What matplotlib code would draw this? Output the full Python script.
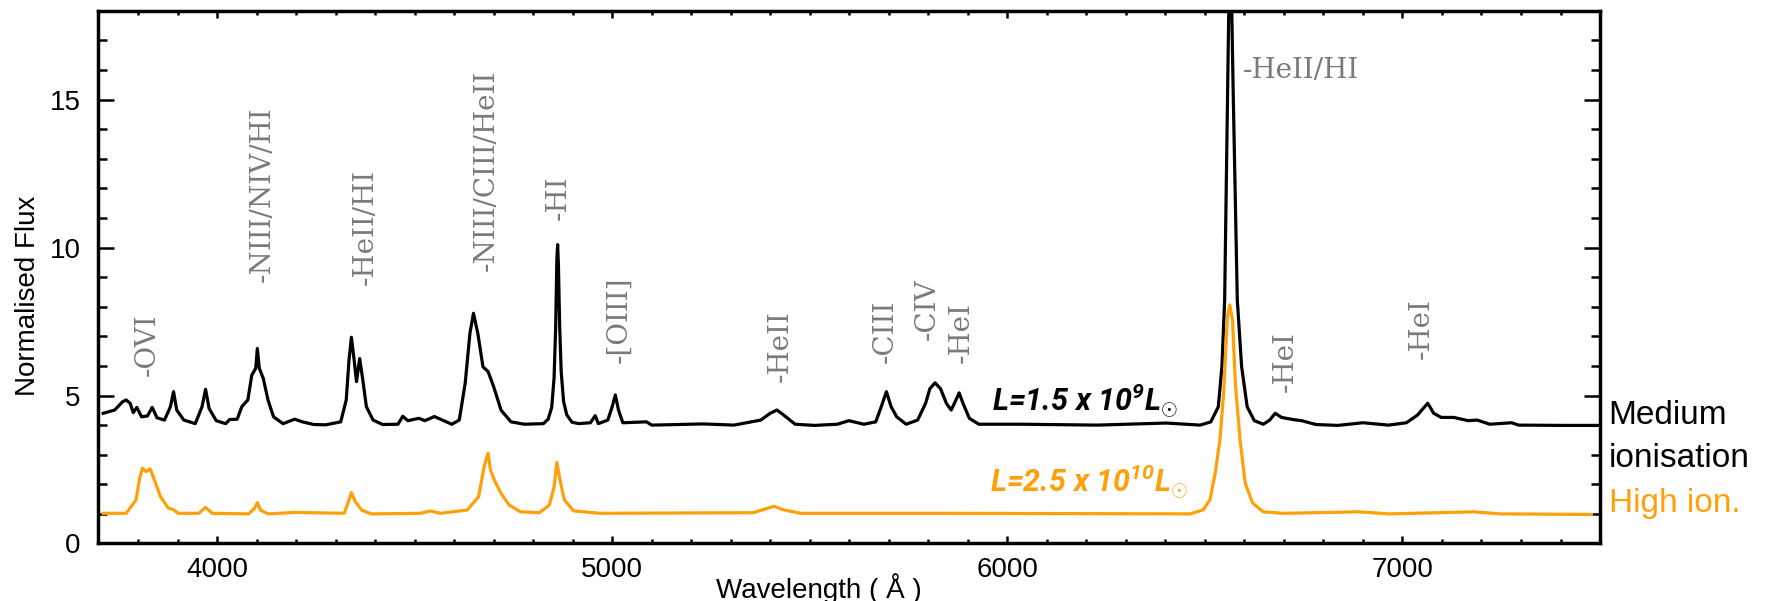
import matplotlib
matplotlib.use('Agg')
import matplotlib.pyplot as plt
import numpy as np
from matplotlib.ticker import MultipleLocator

# Medium ionisation spectrum (wavelength in Angstrom, normalised flux)
medium_wl = [3712, 3725, 3741, 3761, 3770, 3780, 3788, 3797, 3809, 3824, 3836, 3848, 3867,
             3882, 3890, 3898, 3916, 3945, 3962, 3971, 3980, 3998, 4022, 4032, 4051,
             4063, 4078, 4088, 4098, 4102, 4107, 4117, 4129, 4143, 4167, 4197, 4216,
             4245, 4275, 4313, 4327, 4334, 4340, 4347, 4353, 4361, 4369, 4378, 4395,
             4419, 4458, 4470, 4483, 4511, 4526, 4550, 4570, 4594, 4613, 4628, 4640,
             4649, 4660, 4673, 4686, 4700, 4719, 4744, 4778, 4826, 4838, 4847, 4853,
             4857, 4860, 4862, 4864, 4867, 4871, 4877, 4885, 4898, 4915, 4945, 4957,
             4965, 4989, 5000, 5008,
             5016, 5027, 5087, 5100, 5231, 5308, 5376, 5400, 5417, 5434, 5463, 5512,
             5570, 5599, 5637, 5667, 5681, 5694, 5706, 5720, 5744, 5773, 5793, 5804,
             5817, 5831, 5846, 5858, 5870, 5878, 5888, 5904, 5928, 6035, 6228, 6402,
             6488, 6515, 6534, 6543, 6550, 6557, 6560, 6563, 6568, 6572, 6582, 6593,
             6607, 6625, 6648, 6664, 6678, 6694, 6722, 6745, 6781, 6836, 6900, 6965,
             7010, 7038, 7064, 7079, 7098, 7130, 7166, 7189, 7221, 7276, 7294, 7405,
             7496]
medium_flux = [4.40, 4.45, 4.51, 4.79, 4.85, 4.74, 4.42, 4.60, 4.28, 4.31, 4.60, 4.25, 4.17,
               4.62, 5.13, 4.51, 4.17, 4.05, 4.62, 5.21, 4.56, 4.15, 4.05, 4.19, 4.20,
               4.63, 4.85, 5.69, 5.92, 6.59, 5.92, 5.58, 4.85, 4.28, 4.05, 4.20, 4.11,
               4.02, 4.01, 4.11, 4.85, 6.20, 6.97, 6.20, 5.47, 6.25, 5.52, 4.62, 4.17,
               4.02, 4.03, 4.30, 4.15, 4.23, 4.15, 4.29, 4.17, 4.03, 4.17, 5.41, 7.10,
               7.78, 7.10, 5.97, 5.81, 5.30, 4.50, 4.11, 4.03, 4.05, 4.20, 4.60, 5.60,
               7.30, 9.60, 10.10, 9.40, 7.40, 5.80, 4.80, 4.35, 4.10, 4.05, 4.08, 4.32,
               4.05, 4.17, 4.62, 5.02,
               4.51, 4.08, 4.11, 4.00, 4.04, 4.00, 4.17, 4.40, 4.51, 4.34, 4.03, 3.99,
               4.03, 4.15, 4.03, 4.11, 4.62, 5.13, 4.62, 4.28, 4.03, 4.17, 4.73, 5.23,
               5.43, 5.23, 4.73, 4.51, 4.85, 5.09, 4.73, 4.23, 4.03, 4.03, 4.00, 4.07,
               4.00, 4.11, 4.62, 5.97, 8.23, 14.98, 18.0, 19.5, 18.0, 14.98, 8.23, 5.97,
               4.62, 4.15, 4.03, 4.17, 4.40, 4.26, 4.19, 4.15, 4.02, 3.99, 4.08, 4.00,
               4.08, 4.34, 4.74, 4.40, 4.26, 4.26, 4.15, 4.17, 4.03, 4.08, 4.00, 3.99,
               3.99]

# High ionisation spectrum
high_wl = [3712, 3770, 3795, 3804, 3811, 3821, 3831, 3843, 3857, 3877, 3889, 3902,
           3954, 3971, 3988, 4080, 4095, 4102, 4110, 4129, 4197, 4322, 4334, 4340,
           4350, 4366, 4390, 4516, 4540, 4565, 4633, 4662, 4676, 4686, 4692, 4702,
           4719, 4739, 4768, 4816, 4841, 4853, 4860, 4868, 4879, 4903, 4969, 5357,
           5410, 5430, 5477, 5845, 6463, 6496, 6513, 6526, 6538, 6547, 6557, 6563,
           6570, 6577, 6589, 6602, 6621, 6648, 6699, 6891, 6965, 7180, 7248, 7478]
high_flux = [1.02, 1.02, 1.47, 2.19, 2.54, 2.43, 2.52, 2.09, 1.58, 1.19, 1.15, 1.02,
             1.02, 1.22, 1.02, 1.00, 1.19, 1.38, 1.13, 1.00, 1.05, 1.02, 1.47, 1.72,
             1.41, 1.13, 1.00, 1.02, 1.10, 1.02, 1.13, 1.58, 2.60, 3.05, 2.48, 2.14,
             1.69, 1.30, 1.07, 1.04, 1.30, 1.92, 2.74, 2.14, 1.47, 1.10, 1.02, 1.04,
             1.26, 1.15, 1.02, 1.02, 1.00, 1.14, 1.48, 2.37, 3.50, 5.00, 7.66, 8.06,
             7.55, 5.41, 3.50, 2.04, 1.36, 1.07, 1.02, 1.07, 1.00, 1.07, 1.00, 0.98]

# Line identifications: label, wavelength, flux level of the label start
line_labels = ['-OVI', '-NIII/NIV/HI', '-HeII/HI', '-NIII/CIII/HeII', '-HI', '-[OIII]',
               '-HeII', '-CIII', '-CIV', '-HeI', '-HeI', '-HeI']
line_wl = [3823, 4114, 4376, 4681, 4863, 5017, 5426, 5691, 5797, 5884, 6704, 7047]
line_y = [5.66, 8.84, 8.73, 9.22, 10.93, 6.09, 5.47, 6.09, 6.87, 6.09, 5.13, 6.22]

halpha_label = '-HeII/HI'
halpha_wl = 6596
halpha_y = 15.73

black = '#000000'
orange = '#FFA00A'
grey = '#7a7a7a'

plt.rcParams['mathtext.fontset'] = 'custom'
plt.rcParams['mathtext.rm'] = 'Roboto:italic:bold'
plt.rcParams['mathtext.it'] = 'Roboto:italic:bold'
plt.rcParams['mathtext.bf'] = 'Roboto:italic:bold'

fig = plt.figure(figsize=(17.68, 6.01), dpi=100)
ax = fig.add_axes([0.0557, 0.0957, 0.8493, 0.8863])

ax.plot(medium_wl, medium_flux, color=black, linewidth=2.3)
ax.plot(high_wl, high_flux, color=orange, linewidth=2.3)

ax.set_xlim(3700, 7500)
ax.set_ylim(0, 18)

for lab, wl, y in zip(line_labels, line_wl, line_y):
    ax.text(wl, y, lab, rotation=90, ha='center', va='bottom', color=grey,
            family='DejaVu Serif', fontsize=20)
ax.text(halpha_wl, halpha_y, halpha_label, ha='left', va='baseline', color=grey,
        family='DejaVu Serif', fontsize=20)

ax.text(5960, 4.51, r'L=1.5 x 10$^{9}$L$_{\odot}$', color=black, family='Roboto',
        weight='bold', style='italic', fontsize=22, ha='left', va='baseline')
ax.text(5955, 1.78, r'L=2.5 x 10$^{10}$L$_{\odot}$', color=orange, family='Roboto',
        weight='bold', style='italic', fontsize=22, ha='left', va='baseline')

# Legend-like labels to the right of the frame
fig.text(0.9098, 0.2945, 'Medium', color=black, family='Liberation Sans',
         fontsize=24, va='baseline')
fig.text(0.9098, 0.2235, 'ionisation', color=black, family='Liberation Sans',
         fontsize=24, va='baseline')
fig.text(0.9098, 0.1486, 'High ion.', color=orange, family='Liberation Sans',
         fontsize=24, va='baseline')

# Axes styling
for sp in ax.spines.values():
    sp.set_linewidth(2.5)

ax.xaxis.set_major_locator(MultipleLocator(1000))
ax.xaxis.set_minor_locator(MultipleLocator(100))
ax.yaxis.set_major_locator(MultipleLocator(5))
ax.yaxis.set_minor_locator(MultipleLocator(1))

ax.tick_params(axis='both', which='both', direction='in', top=True, right=True,
               width=1.8, labelsize=20)
ax.tick_params(axis='x', which='major', length=5, pad=9.5)
ax.tick_params(axis='x', which='minor', length=3)
ax.tick_params(axis='y', which='major', length=11.5, pad=13)
ax.tick_params(axis='y', which='minor', length=6.5)
for lab in ax.get_xticklabels() + ax.get_yticklabels():
    lab.set_family('Liberation Sans')

ax.set_xlabel('Wavelength ( Å )', family='Liberation Sans', fontsize=20)
ax.xaxis.set_label_coords(0.48, -0.102, transform=ax.transAxes)
ax.xaxis.label.set_va('baseline')
ax.set_ylabel('Normalised Flux', family='Liberation Sans', fontsize=20)
ax.yaxis.set_label_coords(-0.038, 0.465, transform=ax.transAxes)

fig.savefig('out.png', dpi=100)
